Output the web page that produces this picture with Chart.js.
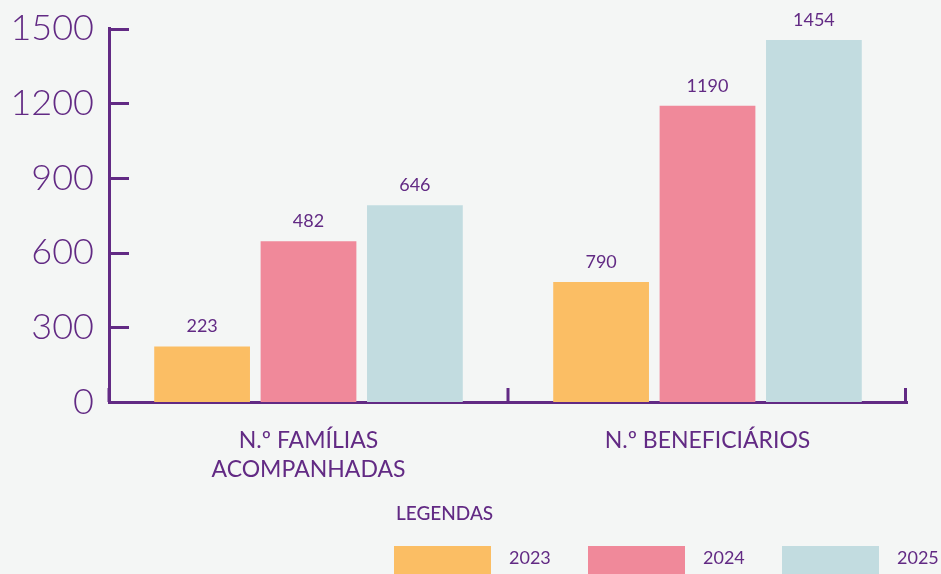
<!DOCTYPE html>
<html>
<head>
<meta charset="utf-8">
<script src="https://cdn.jsdelivr.net/npm/chart.js@4/dist/chart.umd.min.js"></script>
<style>
  html, body { margin: 0; padding: 0; background: #f4f6f5; }
  #wrap { position: relative; width: 941px; height: 574px; overflow: hidden; }
</style>
</head>
<body>
<div id="wrap"><canvas id="c" width="941" height="574"></canvas></div>
<script>
// ---- data ----
const categories = [["N.º FAMÍLIAS", "ACOMPANHADAS"], ["N.º BENEFICIÁRIOS"]];
const years = ["2023", "2024", "2025"];
// bar heights as drawn in the reference
const values2023 = [223, 482];
const values2024 = [646, 1190];
const values2025 = [790, 1454];
// value labels as printed above the bars in the reference
const labels2023 = ["223", "790"];
const labels2024 = ["482", "1190"];
const labels2025 = ["646", "1454"];
const yTicks = [0, 300, 600, 900, 1200, 1500];

const PURPLE = '#622a84';
const colors = ['#fbbe64', '#f0899a', '#c2dce0'];
const FONT = 'Lato, "Open Sans", sans-serif';

const seriesValues = [values2023, values2024, values2025];
const seriesLabels = [labels2023, labels2024, labels2025];

const valueLabelPlugin = {
  id: 'valueLabels',
  afterDatasetsDraw(chart) {
    const ctx = chart.ctx;
    ctx.save();
    ctx.fillStyle = PURPLE;
    ctx.font = '18px ' + FONT;
    ctx.textAlign = 'center';
    ctx.textBaseline = 'bottom';
    chart.data.datasets.forEach((ds, di) => {
      const meta = chart.getDatasetMeta(di);
      meta.data.forEach((bar, i) => {
        ctx.fillText(ds.valueLabels[i], bar.x, bar.y - 11);
      });
    });
    ctx.restore();
  }
};

const axisTicksPlugin = {
  id: 'axisTicks',
  afterDraw(chart) {
    const ctx = chart.ctx;
    const x = chart.scales.x, y = chart.scales.y;
    ctx.save();
    ctx.strokeStyle = PURPLE;
    ctx.lineWidth = 3;
    // y ticks pointing into the plot
    y.ticks.forEach(t => {
      const py = Math.round(y.getPixelForValue(t.value)) + 0.5;
      ctx.beginPath();
      ctx.moveTo(chart.chartArea.left, py);
      ctx.lineTo(chart.chartArea.left + 20, py);
      ctx.stroke();
    });
    // x boundary ticks pointing up
    const n = categories.length;
    for (let i = 0; i <= n; i++) {
      let px = x.left + i * (x.width / n);
      if (i === n) px -= 1.5;
      ctx.beginPath();
      ctx.moveTo(px, chart.chartArea.bottom);
      ctx.lineTo(px, chart.chartArea.bottom - 14);
      ctx.stroke();
    }
    // legend
    ctx.fillStyle = PURPLE;
    ctx.font = '500 19px ' + FONT;
    ctx.textAlign = 'left';
    ctx.textBaseline = 'middle';
    ctx.fillText('LEGENDAS', 396, 514);
    ctx.font = '18px ' + FONT;
    years.forEach((yr, i) => {
      const bx = 394 + i * 194;
      ctx.fillStyle = colors[i];
      ctx.fillRect(bx, 546, 97, 30);
      ctx.fillStyle = PURPLE;
      ctx.fillText(yr, bx + 115, 558);
    });
    ctx.restore();
  }
};

new Chart(document.getElementById('c'), {
  type: 'bar',
  data: {
    labels: categories,
    datasets: years.map((yr, i) => ({
      label: yr,
      data: seriesValues[i],
      valueLabels: seriesLabels[i],
      backgroundColor: colors[i],
      borderWidth: 0,
      categoryPercentage: 0.8,
      barPercentage: 0.9
    }))
  },
  options: {
    responsive: false,
    animation: false,
    layout: { padding: { left: 0, right: 34, top: 23, bottom: 0 } },
    plugins: { legend: { display: false }, tooltip: { enabled: false } },
    scales: {
      x: {
        grid: { display: false },
        border: { display: true, color: PURPLE, width: 3 },
        ticks: { color: PURPLE, font: { family: FONT, size: 23, lineHeight: 1.22 }, padding: 17, maxRotation: 0 },
        afterFit(s) { s.height = 172; }
      },
      y: {
        min: 0, max: 1500,
        afterBuildTicks(s) { s.ticks = yTicks.map(v => ({ value: v })); },
        grid: { display: false },
        border: { display: true, color: PURPLE, width: 3 },
        ticks: { color: PURPLE, font: { family: FONT, size: 36, weight: 300 }, padding: 7, callback: v => String(v) },
        afterFit(s) { s.width = 109; }
      }
    }
  },
  plugins: [valueLabelPlugin, axisTicksPlugin]
});
</script>
</body>
</html>
